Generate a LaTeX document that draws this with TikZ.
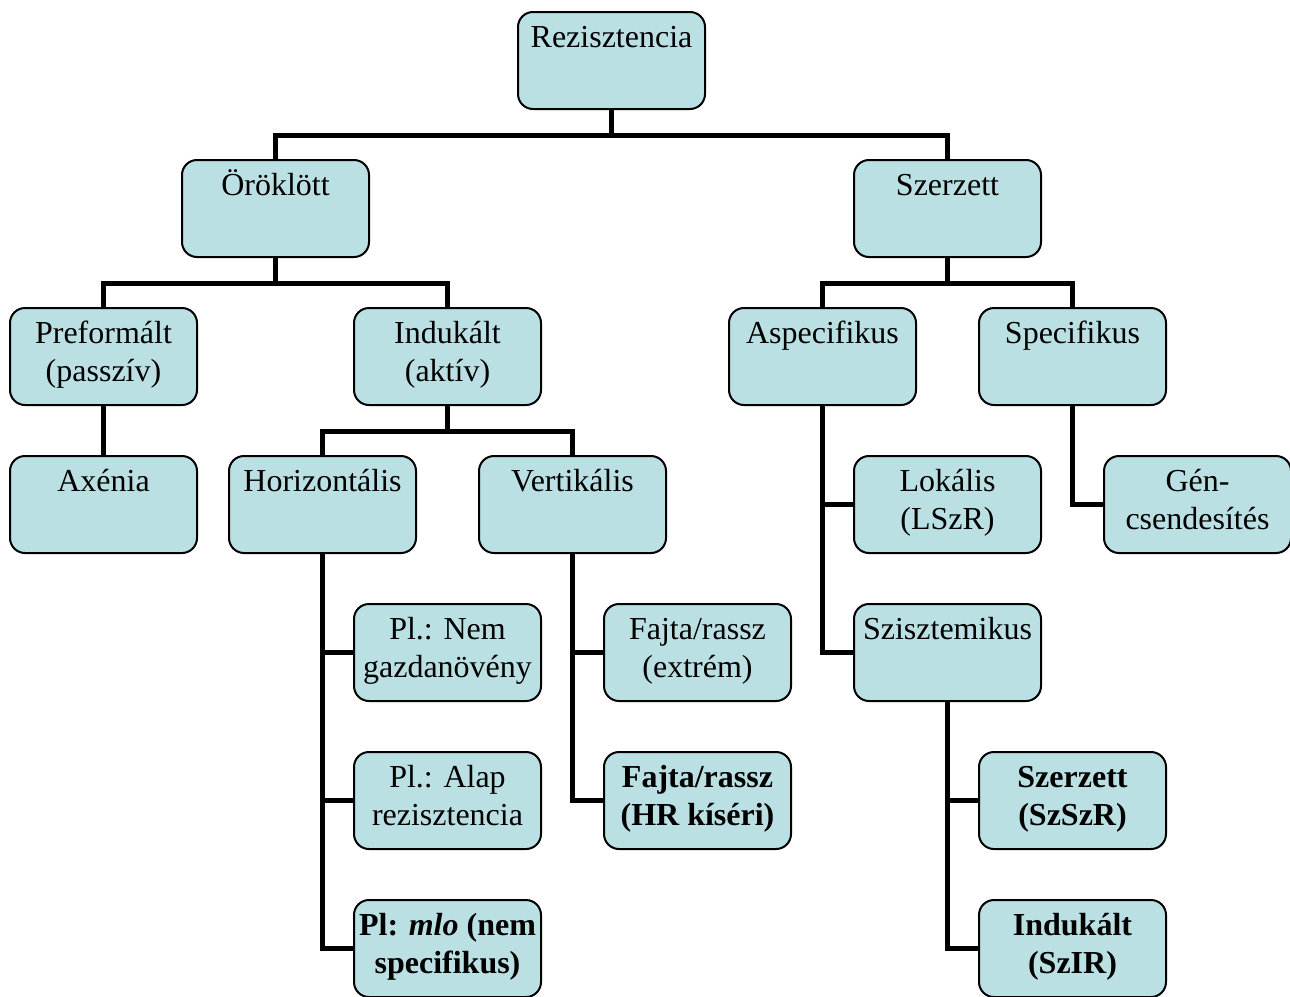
\documentclass[tikz,border=0pt]{standalone}
\usepackage{fontspec}
\setmainfont{Liberation Serif}
\usetikzlibrary{positioning}
\definecolor{boxfill}{HTML}{BBE0E3}
\newcommand{\orgtext}[1]{\parbox[c][48.5pt][t]{93.5pt}{\centering\rule{0pt}{17.5pt}#1}}

\begin{document}
\begin{tikzpicture}[x=0.5pt,y=-0.5pt,node distance=74pt and 62.5pt,on grid,
                    box/.style={draw,line width=1pt,fill=boxfill,rounded corners=7.5pt,
                                inner sep=0pt,font=\fontsize{16pt}{19pt}\selectfont},
                    link/.style={line width=2.5pt}]
  \useasboundingbox (0,0) rectangle (1290,996);

  \node[box] (pref) at (103.5,356.5)        {\orgtext{Preformált\\(passzív)}};
  \node[box] (indu) [right=172pt of pref]   {\orgtext{Indukált\\(aktív)}};
  \node[box] (orok) [above right=74pt and 86pt of pref] {\orgtext{Öröklött}};
  \node[box] (aspe) [right=187.5pt of indu] {\orgtext{Aspecifikus}};
  \node[box] (spec) [right=125pt of aspe]   {\orgtext{Specifikus}};
  \node[box] (szer) [above right=of aspe]   {\orgtext{Szerzett}};
  \node[box] (rezi) [above right=74pt and 168pt of orok] {\orgtext{Rezisztencia}};

  \node[box] (axen) [below=of pref]         {\orgtext{Axénia}};
  \node[box] (hori) [below left=of indu]    {\orgtext{Horizontális}};
  \node[box] (vert) [below right=of indu]   {\orgtext{Vertikális}};
  \node[box] (loka) [below right=of aspe]   {\orgtext{Lokális\\(LSzR)}};
  \node[box] (genc) [below right=of spec]   {\orgtext{Gén-\\csendesítés}};

  \node[box] (nemg) [below right=of hori]   {\orgtext{Pl.: Nem\\gazdanövény}};
  \node[box] (alap) [below=of nemg]         {\orgtext{Pl.: Alap\\rezisztencia}};
  \node[box] (mlo)  [below=of alap]         {\orgtext{\bfseries Pl: \textit{mlo} (nem\\specifikus)}};
  \node[box] (fext) [below right=of vert]   {\orgtext{Fajta/rassz\\(extrém)}};
  \node[box] (fhr)  [below=of fext]         {\orgtext{\bfseries Fajta/rassz\\(HR kíséri)}};
  \node[box] (szis) [below=of loka]         {\orgtext{Szisztemikus}};
  \node[box] (szsz) [below right=of szis]   {\orgtext{\bfseries Szerzett\\(SzSzR)}};
  \node[box] (szir) [below=of szsz]         {\orgtext{\bfseries Indukált\\(SzIR)}};

  % tree branches
  \foreach \a/\b in {rezi/orok,rezi/szer,orok/pref,orok/indu,
                     szer/aspe,szer/spec,indu/hori,indu/vert}
    \draw[link] (\a.south) -- ++(0,25.5) -| (\b.north);
  \draw[link] (pref.south) -- (axen.north);

  % side branches
  \foreach \a/\b in {hori/nemg,hori/alap,hori/mlo,vert/fext,vert/fhr,
                     aspe/loka,aspe/szis,spec/genc,szis/szsz,szis/szir}
    \draw[link] (\a.south) |- (\b.west);
\end{tikzpicture}
\end{document}
